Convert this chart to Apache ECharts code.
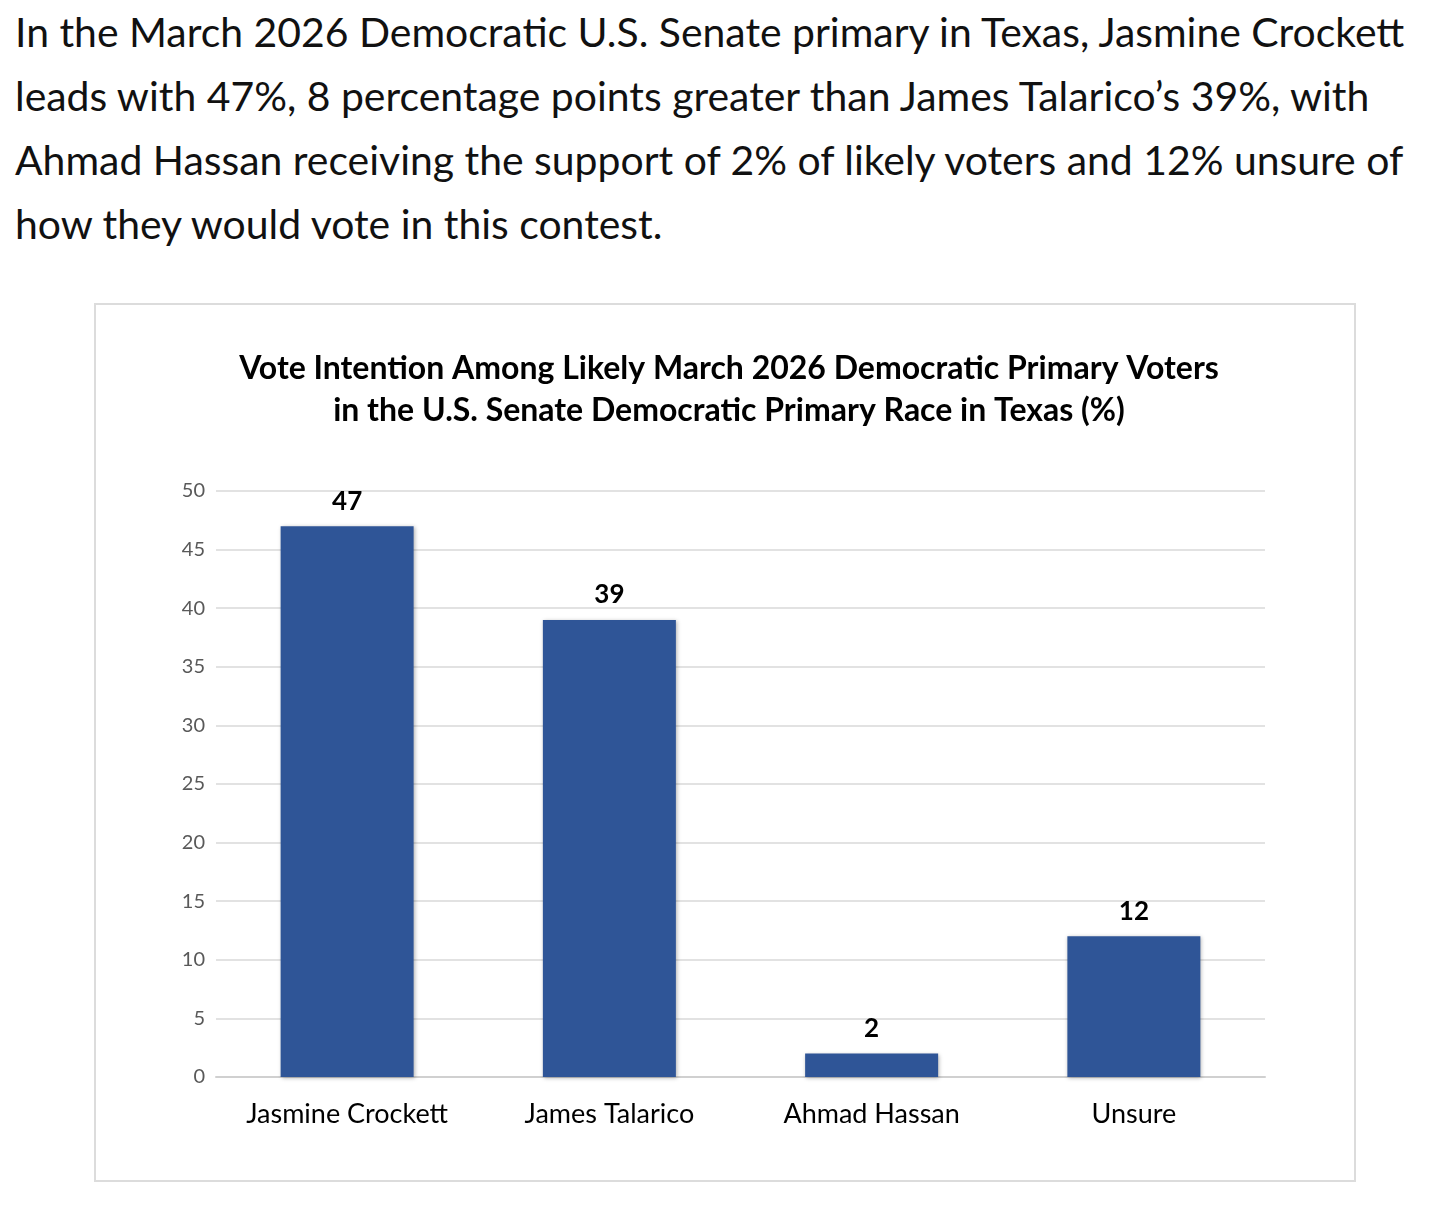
<!DOCTYPE html>
<html>
<head>
<meta charset="utf-8">
<script src="https://cdn.jsdelivr.net/npm/echarts@6/dist/echarts.min.js"></script>
<style>
  html, body { margin: 0; padding: 0; background: #fff; width: 1456px; height: 1221px; overflow: hidden; }
  #para { position: absolute; left: 15px; top: 0px; font-family: Lato, "Open Sans", sans-serif; color: #111; }
  #para div { white-space: nowrap; height: 64px; line-height: 64px; }
  #box { position: absolute; left: 94px; top: 303px; width: 1258px; height: 875px; border: 2px solid #dcdcdc; }
  #chart { position: absolute; left: 0; top: 0; width: 1456px; height: 1221px; }
</style>
</head>
<body>
<div id="para"></div>
<div id="box"></div>
<div id="chart"></div>
<script>
const paragraphLines = [
  "In the March 2026 Democratic U.S. Senate primary in Texas, Jasmine Crockett",
  "leads with 47%, 8 percentage points greater than James Talarico\u2019s 39%, with",
  "Ahmad Hassan receiving the support of 2% of likely voters and 12% unsure of",
  "how they would vote in this contest."
];
const titleLines = [
  "Vote Intention Among Likely March 2026 Democratic Primary Voters",
  "in the U.S. Senate Democratic Primary Race in Texas (%)"
];
const categories = ["Jasmine Crockett", "James Talarico", "Ahmad Hassan", "Unsure"];
const values = [47, 39, 2, 12];
const yTicks = [0, 5, 10, 15, 20, 25, 30, 35, 40, 45, 50];

// paragraph: fit first line to its measured width in the reference
const para = document.getElementById('para');
const ctx = document.createElement('canvas').getContext('2d');
ctx.font = '100px Lato';
const w100 = ctx.measureText(paragraphLines[0]).width;
const fs = 100 * 1393 / w100;
para.style.fontSize = fs.toFixed(2) + 'px';
paragraphLines.forEach(t => { const d = document.createElement('div'); d.textContent = t; para.appendChild(d); });

const chart = echarts.init(document.getElementById('chart'), null, { renderer: 'canvas' });
chart.setOption({
  backgroundColor: 'transparent',
  animation: false,
  title: {
    text: titleLines.join('\n'),
    left: 724,
    top: 343,
    textAlign: 'center',
    textStyle: { fontFamily: 'Lato', fontWeight: 'bold', fontSize: 32, lineHeight: 42, color: '#000' }
  },
  grid: { left: 216, top: 491, width: 1049, height: 586, containLabel: false },
  xAxis: {
    type: 'category',
    data: categories,
    axisLine: { lineStyle: { color: '#d0d0d0', width: 2 } },
    axisTick: { show: false },
    axisLabel: { interval: 0, hideOverlap: false, fontFamily: 'Lato', fontSize: 27, color: '#000', margin: 24 }
  },
  yAxis: {
    type: 'value',
    min: yTicks[0],
    max: yTicks[yTicks.length - 1],
    interval: 5,
    axisLine: { show: false },
    axisTick: { show: false },
    splitLine: { lineStyle: { color: '#d9d9d9', width: 1.5 } },
    axisLabel: { fontFamily: 'Lato', fontSize: 20, color: '#595959', margin: 11 }
  },
  series: [{
    type: 'bar',
    data: values,
    barWidth: 133,
    itemStyle: {
      color: '#2f5597',
      shadowColor: 'rgba(0,0,0,0.3)',
      shadowBlur: 4,
      shadowOffsetX: 1,
      shadowOffsetY: 1
    },
    label: {
      show: true,
      position: 'top',
      distance: 12,
      fontFamily: 'Lato',
      fontWeight: 'bold',
      fontSize: 26,
      color: '#000'
    }
  }]
});
</script>
</body>
</html>
